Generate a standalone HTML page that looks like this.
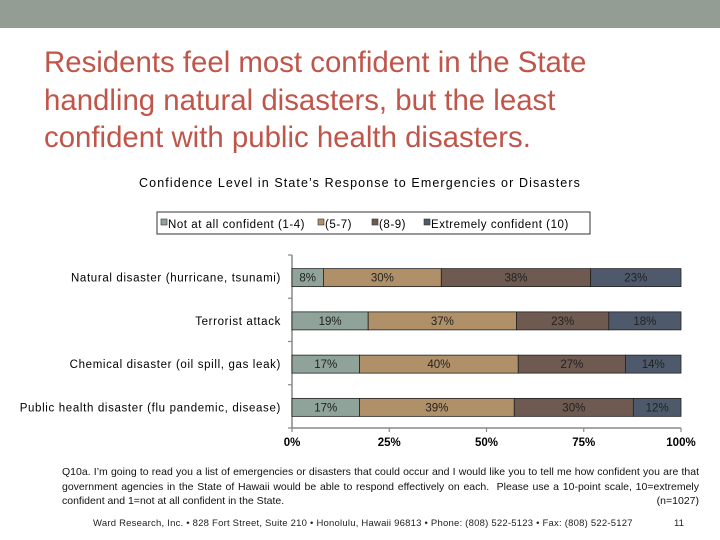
<!DOCTYPE html>
<html><head><meta charset="utf-8"><style>
body{margin:0;width:720px;height:540px;background:#fff;font-family:"Liberation Sans",sans-serif;position:relative;overflow:hidden}
.hdr{position:absolute;left:0;top:0;width:720px;height:28px;background:#939d94}
.title{position:absolute;left:44px;top:44px;font-size:29.4px;line-height:37.5px;color:#c0554a}
.sub{position:absolute;left:0;width:720px;top:176px;text-align:center;font-size:12.5px;letter-spacing:1.1px;color:#000}
.note{position:absolute;left:62px;top:465px;width:637px;font-size:10.5px;line-height:14.5px;text-align:justify;color:#111}
.foot{position:absolute;left:93px;top:518px;font-size:9.5px;letter-spacing:0.22px;color:#222}
.pg{position:absolute;left:674px;top:518px;font-size:9.5px;color:#222}
</style></head><body>
<div class="hdr"></div>
<div class="title">Residents feel most confident in the State<br>handling natural disasters, but the least<br>confident with public health disasters.</div>
<div class="sub">Confidence Level in State’s Response to Emergencies or Disasters</div>
<svg id="chart" width="720" height="540" style="position:absolute;left:0;top:0"></svg>
<div class="note">Q10a. I’m going to read you a list of emergencies or disasters that could occur and I would like you to tell me how confident you are that government agencies in the State of Hawaii would be able to respond effectively on each.&nbsp; Please use a 10-point scale, 10=extremely confident and 1=not at all confident in the State.<span style="float:right">(n=1027)</span></div>
<div class="foot">Ward Research, Inc. • 828 Fort Street, Suite 210 • Honolulu, Hawaii 96813 • Phone: (808) 522-5123 • Fax: (808) 522-5127</div>
<div class="pg">11</div>
<script>
const categories=["Natural disaster (hurricane, tsunami)","Terrorist attack","Chemical disaster (oil spill, gas leak)","Public health disaster (flu pandemic, disease)"];
const seriesNames=["Not at all confident (1-4)","(5-7)","(8-9)","Extremely confident (10)"];
const s1=[8,19,17,17];
const s2=[30,37,40,39];
const s3=[38,23,27,30];
const s4=[23,18,14,12];
const ticks=[0,25,50,75,100];
const colors=["#8fa39a","#b09068","#6e5a50","#4e5a6c"];
const svg=document.getElementById('chart');
const NS="http://www.w3.org/2000/svg";
const x0=292,x1=681,yTop=255,yBot=428;
const xs=v=>x0+(x1-x0)*v/100;
const bandH=(yBot-yTop)/categories.length;
const yc=i=>yTop+bandH*(i+0.5)+1;
function mk(t,a){const e=document.createElementNS(NS,t);for(const k in a)e.setAttribute(k,a[k]);svg.appendChild(e);return e;}
const lg=mk('rect',{x:157,y:212,width:433,height:22,fill:'#fff',stroke:'#333','stroke-width':1});


const lx=[161,318,372,424];
seriesNames.forEach((n,i)=>{
  const r=mk('rect',{x:lx[i],y:219,width:6,height:6,fill:colors[i],stroke:'#333','stroke-width':0.6});
  
  
  const t=mk('text',{x:lx[i]+7,y:228,'font-size':11.5,'letter-spacing':0.55,fill:'#000','font-family':'Liberation Sans'});
  t.textContent=n;
  
  
});
const ax=mk('line',{x1:x0,y1:yTop,x2:x0,y2:yBot,stroke:'#888','stroke-width':1.5});


const bx=mk('line',{x1:x0,y1:yBot,x2:x1,y2:yBot,stroke:'#888','stroke-width':1.5});


for(let i=0;i<=categories.length;i++){const yy=yTop+bandH*i;mk('line',{x1:x0-4,y1:yy,x2:x0,y2:yy,stroke:'#888','stroke-width':1.2});}
ticks.forEach(t=>{
  mk('line',{x1:xs(t),y1:yBot,x2:xs(t),y2:yBot+4,stroke:'#888','stroke-width':1.2});
  const tx=mk('text',{x:xs(t),y:yBot+18,'font-size':11.5,'font-weight':'bold','text-anchor':'middle',fill:'#000','font-family':'Liberation Sans'});
  tx.textContent=t+'%';
  
  
});
const series=[s1,s2,s3,s4];
categories.forEach((c,i)=>{
  const lab=mk('text',{x:281,y:yc(i)+4,'font-size':11.5,'letter-spacing':0.65,'text-anchor':'end',fill:'#000','font-family':'Liberation Sans'});
  lab.textContent=c;
  
  
  const tot=series.reduce((a,s)=>a+s[i],0);
  let acc=0;
  series.forEach((s,k)=>{
    const xa=xs(acc/tot*100);acc+=s[i];const xb=xs(acc/tot*100);
    const r=mk('rect',{x:xa,y:yc(i)-9,width:xb-xa,height:18,fill:colors[k],stroke:'#222','stroke-width':0.8});
    
    
    const t=mk('text',{x:(xa+xb)/2,y:yc(i)+4,'font-size':11.5,'text-anchor':'middle',fill:'#222','font-family':'Liberation Sans'});
    t.textContent=s[i]+'%';
    
    
  });
});
</script>
</body></html>
